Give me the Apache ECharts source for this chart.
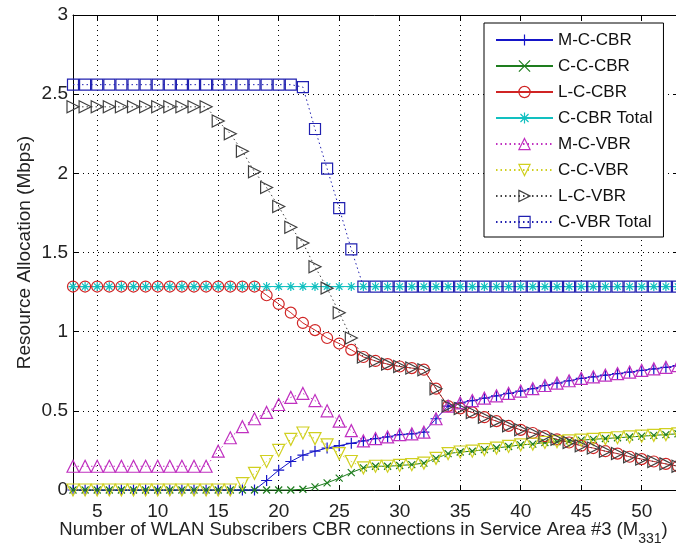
<!DOCTYPE html>
<html><head><meta charset="utf-8">
<script src="https://cdn.jsdelivr.net/npm/echarts@6/dist/echarts.min.js"></script>
<style>html,body{margin:0;padding:0;background:#fff}#c{width:676px;height:550px}</style>
</head><body><div id="c"></div>
<script>
const xValues = [3,4,5,6,7,8,9,10,11,12,13,14,15,16,17,18,19,20,21,22,23,24,25,26,27,28,29,30,31,32,33,34,35,36,37,38,39,40,41,42,43,44,45,46,47,48,49,50,51,52,53];

const mCCBR = [0,0,0,0,0,0,0,0,0,0,0,0,0,0,0,0,
  0.06,0.125,0.18,0.22,0.245,0.265,0.28,0.295,
  0.31,0.325,0.335,0.35,0.355,0.365,0.45,0.53,0.55,0.565,0.58,0.595,0.61,0.625,0.64,0.66,0.675,0.69,0.705,0.715,0.725,0.735,0.745,0.755,0.765,0.775,0.785];

const cCCBR = [0,0,0,0,0,0,0,0,0,0,0,0,0,0,0,0,0,0,0,
  0.005,0.02,0.045,0.075,0.11,
  0.14,0.15,0.15,0.155,0.16,0.17,0.2,0.23,0.24,0.245,0.255,0.265,0.275,0.285,0.29,0.3,0.305,0.31,0.315,0.32,0.325,0.33,0.335,0.34,0.345,0.35,0.355];

const lCCBR = [1.285,1.285,1.285,1.285,1.285,1.285,1.285,1.285,1.285,1.285,1.285,1.285,1.285,1.285,1.285,1.285,
  1.23,1.175,1.12,1.055,1.01,0.96,0.925,0.885,
  0.84,0.815,0.795,0.78,0.77,0.76,0.64,0.53,0.515,0.49,0.46,0.435,0.405,0.38,0.36,0.34,0.32,0.3,0.28,0.265,0.245,0.23,0.21,0.195,0.18,0.165,0.15];

const cCBRTotal = [1.285,1.285,1.285,1.285,1.285,1.285,1.285,1.285,1.285,1.285,1.285,1.285,1.285,1.285,1.285,1.285,1.285,
  1.285,1.285,1.285,1.285,1.285,1.285,1.285,1.285,1.285,1.285,1.285,1.285,1.285,1.285,1.285,1.285,1.285,
  1.285,1.285,1.285,1.285,1.285,1.285,1.285,1.285,1.285,1.285,1.285,1.285,1.285,1.285,1.285,1.285,1.285];

const mCVBR = [0.15,0.15,0.15,0.15,0.15,0.15,0.15,0.15,0.15,0.15,0.15,0.15,
  0.245,0.33,0.4,0.45,0.49,0.54,0.585,0.61,0.565,0.5,0.435,0.375,
  0.31,0.325,0.335,0.35,0.355,0.365,0.45,0.53,0.55,0.565,0.58,0.595,0.61,0.625,0.64,0.66,0.675,0.69,0.705,0.715,0.725,0.735,0.745,0.755,0.765,0.775,0.785];

const cCVBR = [0,0,0,0,0,0,0,0,0,0,0,0,0,0,
  0.04,0.105,0.18,0.25,0.32,0.36,0.325,0.285,0.23,0.18,
  0.14,0.15,0.15,0.155,0.16,0.17,0.2,0.23,0.24,0.245,0.255,0.265,0.275,0.285,0.29,0.3,0.305,0.31,0.315,0.32,0.325,0.33,0.335,0.34,0.345,0.35,0.355];

const lCVBR = [2.42,2.42,2.42,2.42,2.42,2.42,2.42,2.42,2.42,2.42,2.42,2.42,
  2.33,2.25,2.14,2.01,1.91,1.79,1.66,1.56,1.41,1.275,1.12,0.96,
  0.84,0.815,0.795,0.78,0.77,0.76,0.64,0.53,0.515,0.49,0.46,0.435,0.405,0.38,0.36,0.34,0.32,0.3,0.28,0.265,0.245,0.23,0.21,0.195,0.18,0.165,0.15];

const cVBRTotal = [2.56,2.56,2.56,2.56,2.56,2.56,2.56,2.56,2.56,2.56,2.56,2.56,2.56,2.56,2.56,2.56,2.56,2.56,2.56,
  2.545,2.28,2.03,1.78,1.52,
  1.285,1.285,1.285,1.285,1.285,1.285,1.285,1.285,1.285,1.285,1.285,1.285,1.285,1.285,1.285,1.285,1.285,1.285,1.285,1.285,1.285,1.285,1.285,1.285,1.285,1.285,1.285];

const FONT = "'Liberation Sans', Arial, Helvetica, sans-serif";
const PLUS = 'path://M0,-5L0,5M-5,0L5,0';
const CROSS = 'path://M-5,-5L5,5M-5,5L5,-5';
const STAR = 'path://M0,-5L0,5M-5,0L5,0M-3.6,-3.6L3.6,3.6M-3.6,3.6L3.6,-3.6';
const TRI_DOWN = 'path://M-5,-4.3L5,-4.3L0,4.3Z';
const TRI_RIGHT = 'path://M-4.3,-5L4.3,0L-4.3,5Z';

function mk(name, vals, color, symbol, size, dotted) {
  return {
    name: name, type: 'line',
    data: xValues.map((x, i) => [x, vals[i]]),
    symbol: symbol, symbolSize: size, showSymbol: true, showAllSymbol: true, clip: false,
    lineStyle: {color: color, width: 1, type: dotted ? [1.5, 3] : 'solid'},
    itemStyle: {color: 'rgba(255,255,255,0)', borderColor: color, borderWidth: 1.2},
    emphasis: {disabled: true},
    animation: false
  };
}

const series = [
  mk('M-C-CBR', mCCBR, '#1515c8', PLUS, 11, false),
  mk('C-C-CBR', cCCBR, '#1e7d1e', CROSS, 7, false),
  mk('L-C-CBR', lCCBR, '#d02424', 'circle', 11, false),
  mk('C-CBR Total', cCBRTotal, '#12c0c0', STAR, 9, false),
  mk('M-C-VBR', mCVBR, '#c030c0', 'triangle', 12, true),
  mk('C-C-VBR', cCVBR, '#d0d020', TRI_DOWN, 12, true),
  mk('L-C-VBR', lCVBR, '#404040', TRI_RIGHT, 12, true),
  mk('C-VBR Total', cVBRTotal, '#2020b0', 'rect', 11, true)
];

const chart = echarts.init(document.getElementById('c'), null, {renderer: 'canvas'});
const axisLineStyle = {color: '#000', width: 1};
const gridLineStyle = {color: '#000', width: 1, type: [1, 4]};
chart.setOption({
  animation: false,
  backgroundColor: '#fff',
  grid: {left: 73, top: 15, right: -2, bottom: 60, containLabel: false, outerBoundsMode: 'none'},
  xAxis: [{
    type: 'value', min: 3, max: 53, splitNumber: 10, position: 'bottom',
    axisLine: {show: true, onZero: false, lineStyle: axisLineStyle},
    axisTick: {show: true, inside: true, length: 5, lineStyle: axisLineStyle},
    axisLabel: {show: true, showMinLabel: false, showMaxLabel: false, fontSize: 19, color: '#222', margin: 12, fontFamily: FONT},
    splitLine: {show: true, lineStyle: gridLineStyle},
    name: '{a|Number of WLAN Subscribers CBR connections in Service Area #3 (M}{s|331}{a|)}',
    nameLocation: 'middle', nameGap: 29, nameMoveOverlap: false,
    nameTextStyle: {
      padding: [0, 24, 0, 0],
      rich: {
        a: {fontSize: 18.5, color: '#222', fontFamily: FONT, lineHeight: 22},
        s: {fontSize: 14, color: '#222', fontFamily: FONT, lineHeight: 22, padding: [18, 0, 0, 0]}
      }
    }
  }, {
    type: 'value', min: 3, max: 53, splitNumber: 10, position: 'top',
    axisLine: {show: true, onZero: false, lineStyle: axisLineStyle},
    axisTick: {show: true, inside: true, length: 5, lineStyle: axisLineStyle},
    axisLabel: {show: false}, splitLine: {show: false}
  }],
  yAxis: [{
    type: 'value', min: 0, max: 3, interval: 0.5, position: 'left',
    axisLine: {show: true, onZero: false, lineStyle: axisLineStyle},
    axisTick: {show: true, inside: true, length: 5, lineStyle: axisLineStyle},
    axisLabel: {show: true, fontSize: 19, color: '#222', margin: 5, fontFamily: FONT},
    splitLine: {show: true, lineStyle: gridLineStyle},
    name: 'Resource Allocation (Mbps)', nameLocation: 'middle', nameGap: 39, nameMoveOverlap: false,
    nameTextStyle: {fontSize: 19, color: '#222', fontFamily: FONT}
  }, {
    type: 'value', min: 0, max: 3, interval: 0.5, position: 'right',
    axisLine: {show: true, onZero: false, lineStyle: axisLineStyle},
    axisTick: {show: true, inside: true, length: 5, lineStyle: axisLineStyle},
    axisLabel: {show: false}, splitLine: {show: false}
  }],
  legend: {
    show: true, orient: 'vertical', left: 484, top: 23,
    padding: [7, 11, 5, 11], itemGap: 6, itemWidth: 57, itemHeight: 14,
    backgroundColor: '#fff', borderColor: '#000', borderWidth: 1, borderRadius: 0,
    selectedMode: false,
    itemStyle: {borderWidth: 1.2},
    textStyle: {fontSize: 17, lineHeight: 20, color: '#111', fontFamily: FONT},
    data: series.map(s => s.name)
  },
  series: series
});
</script>
</body></html>
